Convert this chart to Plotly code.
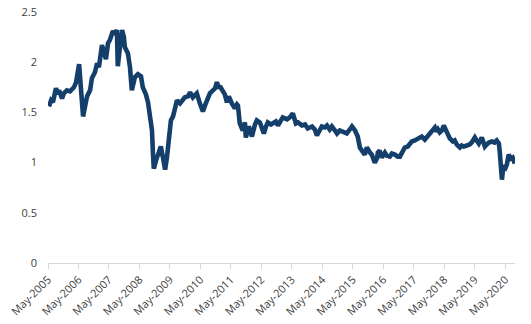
import datetime as dt
import plotly.graph_objects as go

# Observation times as decimal years, and the index level at each observation
obs_year = [
    2005.36, 2005.43, 2005.49, 2005.59, 2005.66, 2005.69, 2005.79, 2005.85, 2005.95, 2006.05,
    2006.18, 2006.25, 2006.35, 2006.41, 2006.48, 2006.54, 2006.61, 2006.71, 2006.77, 2006.87,
    2006.94, 2007.00, 2007.10, 2007.17, 2007.23, 2007.30, 2007.36, 2007.46, 2007.53, 2007.59,
    2007.62, 2007.69, 2007.76, 2007.82, 2007.85, 2007.95, 2008.02, 2008.08, 2008.18, 2008.28,
    2008.38, 2008.44, 2008.54, 2008.61, 2008.67, 2008.74, 2008.77, 2008.80, 2008.87, 2008.94,
    2009.03, 2009.10, 2009.17, 2009.23, 2009.30, 2009.36, 2009.43, 2009.49, 2009.56, 2009.66,
    2009.76, 2009.82, 2009.92, 2009.99, 2010.08, 2010.15, 2010.21, 2010.31, 2010.41, 2010.48,
    2010.54, 2010.64, 2010.74, 2010.81, 2010.87, 2010.94, 2010.97, 2011.07, 2011.13, 2011.20,
    2011.26, 2011.36, 2011.46, 2011.53, 2011.56, 2011.62, 2011.72, 2011.79, 2011.82, 2011.92,
    2012.02, 2012.12, 2012.18, 2012.28, 2012.35, 2012.41, 2012.48, 2012.54, 2012.64, 2012.71,
    2012.80, 2012.87, 2012.97, 2013.03, 2013.17, 2013.26, 2013.36, 2013.43, 2013.46, 2013.53,
    2013.66, 2013.76, 2013.85, 2013.99, 2014.08, 2014.15, 2014.25, 2014.31, 2014.41, 2014.48,
    2014.57, 2014.64, 2014.74, 2014.81, 2014.90, 2014.97, 2015.07, 2015.13, 2015.23, 2015.30,
    2015.40, 2015.49, 2015.56, 2015.62, 2015.69, 2015.72, 2015.79, 2015.82, 2015.89, 2015.95,
    2016.02, 2016.05, 2016.12, 2016.15, 2016.21, 2016.28, 2016.38, 2016.44, 2016.54, 2016.61,
    2016.71, 2016.80, 2016.87, 2016.97, 2017.03, 2017.13, 2017.20, 2017.26, 2017.36, 2017.43,
    2017.53, 2017.59, 2017.69, 2017.79, 2017.85, 2017.92, 2018.02, 2018.08, 2018.12, 2018.18,
    2018.25, 2018.31, 2018.38, 2018.41, 2018.51, 2018.61, 2018.67, 2018.74, 2018.84, 2018.90,
    2018.97, 2019.07, 2019.16, 2019.23, 2019.33, 2019.39, 2019.46, 2019.56, 2019.62, 2019.66,
    2019.72, 2019.79, 2019.89, 2019.98, 2020.05, 2020.12, 2020.15, 2020.22, 2020.25, 2020.28,
    2020.34, 2020.38, 2020.44, 2020.51, 2020.57, 2020.64,
]

level = [
    1.56, 1.62, 1.60, 1.74, 1.68, 1.72, 1.64, 1.69, 1.72, 1.71,
    1.75, 1.80, 1.98, 1.78, 1.46, 1.55, 1.66, 1.72, 1.84, 1.90,
    1.99, 1.95, 2.17, 2.10, 2.03, 2.19, 2.22, 2.31, 2.28, 2.32,
    1.96, 2.15, 2.32, 2.25, 2.15, 2.09, 1.95, 1.72, 1.85, 1.88,
    1.86, 1.75, 1.68, 1.60, 1.48, 1.32, 1.10, 0.94, 1.02, 1.10,
    1.16, 1.05, 0.93, 1.05, 1.28, 1.42, 1.46, 1.52, 1.62, 1.59,
    1.64, 1.65, 1.66, 1.70, 1.65, 1.67, 1.69, 1.59, 1.51, 1.57,
    1.62, 1.69, 1.72, 1.74, 1.80, 1.74, 1.76, 1.72, 1.68, 1.60,
    1.66, 1.59, 1.54, 1.58, 1.57, 1.39, 1.32, 1.40, 1.25, 1.36,
    1.26, 1.38, 1.42, 1.40, 1.34, 1.29, 1.36, 1.40, 1.38, 1.39,
    1.41, 1.37, 1.41, 1.45, 1.43, 1.45, 1.49, 1.42, 1.39, 1.40,
    1.37, 1.38, 1.34, 1.36, 1.33, 1.27, 1.32, 1.36, 1.35, 1.37,
    1.33, 1.36, 1.32, 1.29, 1.32, 1.31, 1.29, 1.29, 1.33, 1.36,
    1.32, 1.26, 1.15, 1.13, 1.10, 1.08, 1.15, 1.13, 1.10, 1.08,
    1.04, 1.00, 1.04, 1.10, 1.12, 1.05, 1.10, 1.07, 1.06, 1.09,
    1.08, 1.06, 1.06, 1.13, 1.15, 1.16, 1.19, 1.21, 1.22, 1.23,
    1.24, 1.26, 1.23, 1.27, 1.29, 1.31, 1.35, 1.31, 1.33, 1.30,
    1.32, 1.37, 1.32, 1.29, 1.24, 1.21, 1.22, 1.18, 1.15, 1.17,
    1.16, 1.17, 1.18, 1.20, 1.25, 1.22, 1.19, 1.25, 1.20, 1.16,
    1.18, 1.20, 1.21, 1.20, 1.22, 1.19, 1.10, 0.83, 0.92, 0.97,
    0.95, 0.98, 1.08, 1.04, 1.05, 0.99,
]

y_ticks = [0, 0.5, 1, 1.5, 2, 2.5]
y_tick_text = ["0", "0.5", "1", "1.5", "2", "2.5"]
x_start = "2005-05-01"
x_end = "2020-08-25"


def to_date(year_frac):
    year = int(year_frac)
    start = dt.datetime(year, 1, 1)
    days = (dt.datetime(year + 1, 1, 1) - start).days
    return start + dt.timedelta(days=(year_frac - year) * days)


dates = [to_date(v) for v in obs_year]

fig = go.Figure(
    go.Scatter(
        x=dates,
        y=level,
        mode="lines",
        line=dict(color="#143F6B", width=4.6),
        hoverinfo="skip",
    )
)

fig.update_layout(
    width=531,
    height=324,
    margin=dict(l=48, r=16, t=12, b=61, autoexpand=False),
    paper_bgcolor="white",
    plot_bgcolor="white",
    showlegend=False,
    font=dict(family="Open Sans", size=11, color="#404040"),
)

fig.update_xaxes(
    type="date",
    range=[x_start, x_end],
    tick0=x_start,
    dtick="M12",
    tickformat="%b-%Y",
    tickangle=-45,
    ticks="outside",
    ticklen=5,
    tickcolor="#D9D9D9",
    showline=True,
    linecolor="#D9D9D9",
    linewidth=1,
    showgrid=False,
    zeroline=False,
    automargin=False,
    tickfont=dict(size=11, color="#404040"),
)

fig.update_yaxes(
    range=[0, 2.5],
    tickvals=y_ticks,
    ticktext=y_tick_text,
    showgrid=False,
    zeroline=False,
    showline=False,
    ticks="",
    ticklabelstandoff=10,
    automargin=False,
    tickfont=dict(size=11, color="#404040"),
)

fig.write_html("out.html")
